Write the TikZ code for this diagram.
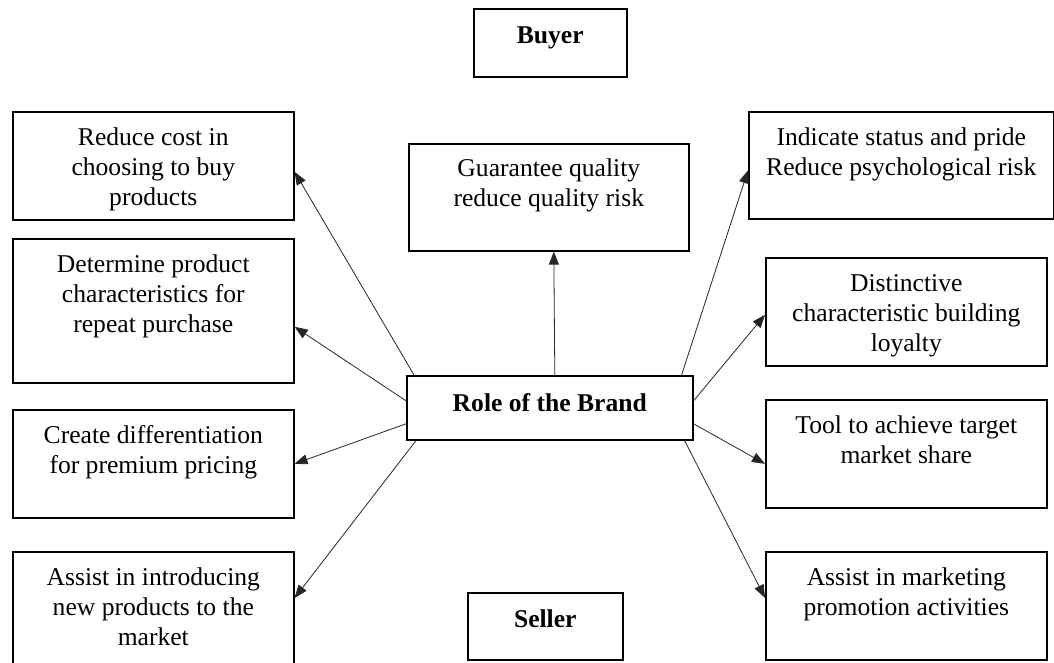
\documentclass[tikz,border=0pt]{standalone}
\usepackage{fontspec}
\setmainfont{Liberation Serif}
\usetikzlibrary{arrows.meta}

\begin{document}
\begin{tikzpicture}[x=1pt,y=-1pt,
  box/.style={draw=black, line width=1.6pt, rectangle, inner sep=0pt, anchor=north west},
  txt/.style={anchor=north, inner sep=0pt, align=center,
              font=\fontsize{25.6}{30}\selectfont},
  bold/.style={txt, font=\fontsize{25.6}{30}\selectfont\bfseries},
  link/.style={draw=black!85, line width=0.8pt,
               -{Triangle[length=13pt,width=10pt]}}]

\useasboundingbox (0,0) rectangle (1054,662);
\clip (0,0) rectangle (1054,662);

% frames: top-left corner, width and height
\node[box, minimum width=153pt, minimum height=68pt]  (buyer)   at (473,8)    {};
\node[box, minimum width=281pt, minimum height=108pt] (reduce)  at (12,111)   {};
\node[box, minimum width=281pt, minimum height=144pt] (determ)  at (12,238)   {};
\node[box, minimum width=281pt, minimum height=108pt] (differ)  at (12,409)   {};
\node[box, minimum width=281pt, minimum height=125pt] (intro)   at (12,551)   {};
\node[box, minimum width=280pt, minimum height=107pt] (quality) at (408,143)  {};
\node[box, minimum width=286pt, minimum height=64pt]  (role)    at (406,375)  {};
\node[box, minimum width=155pt, minimum height=67pt]  (seller)  at (467,592)  {};
\node[box, minimum width=305pt, minimum height=107pt] (status)  at (748,111)  {};
\node[box, minimum width=281pt, minimum height=108pt] (loyal)   at (765,257)  {};
\node[box, minimum width=281pt, minimum height=108pt] (share)   at (765,399)  {};
\node[box, minimum width=281pt, minimum height=108pt] (promo)   at (765,551)  {};

% texts, hung from the top of each frame
\node[bold] (tbuyer)  at ([yshift=-19pt]buyer.north)  {Buyer};
\node[bold] (trole)   at ([yshift=-18pt]role.north)   {Role of the Brand};
\node[bold] (tseller) at ([yshift=-18pt]seller.north) {Seller};
\node[txt] (treduce)  at ([yshift=-17pt]reduce.north)  {Reduce cost in\\choosing to buy\\products};
\node[txt] (tdeterm)  at ([yshift=-17pt]determ.north)  {Determine product\\characteristics for\\repeat purchase};
\node[txt] (tdiffer)  at ([yshift=-16pt]differ.north)  {Create differentiation\\for premium pricing};
\node[txt] (tintro)   at ([yshift=-17pt]intro.north)   {Assist in introducing\\new products to the\\market};
\node[txt] (tquality) at ([yshift=-16pt]quality.north) {Guarantee quality\\reduce quality risk};
\node[txt] (tstatus)  at ([yshift=-17pt]status.north)  {Indicate status and pride\\Reduce psychological risk};
\node[txt] (tloyal)   at ([yshift=-17pt]loyal.north)   {Distinctive\\characteristic building\\loyalty};
\node[txt] (tshare)   at ([yshift=-17pt]share.north)   {Tool to achieve target\\market share};
\node[txt] (tpromo)   at ([yshift=-17pt]promo.north)   {Assist in marketing\\promotion activities};

% arrows out of the central frame
\draw[link] ([xshift=8pt]role.north west)  -- ([yshift=-6pt]reduce.east);
\draw[link] ([yshift=7pt]role.west)        -- ([yshift=-16pt]determ.east);
\draw[link] ([xshift=5pt]role.north)       -- ([xshift=5pt]quality.south);
\draw[link] ([yshift=-16pt]role.west)      -- (differ.east);
\draw[link] ([xshift=10pt]role.south west) -- ([yshift=-47pt]intro.north east);
\draw[link] ([xshift=-12pt]role.north east) -- ([yshift=-5pt]status.west);
\draw[link] ([yshift=7pt]role.east)        -- ([yshift=-3pt]loyal.west);
\draw[link] ([yshift=-16pt]role.east)      -- ([yshift=-10pt]share.west);
\draw[link] ([xshift=-9pt]role.south east) -- ([yshift=8pt]promo.west);

\end{tikzpicture}
\end{document}
